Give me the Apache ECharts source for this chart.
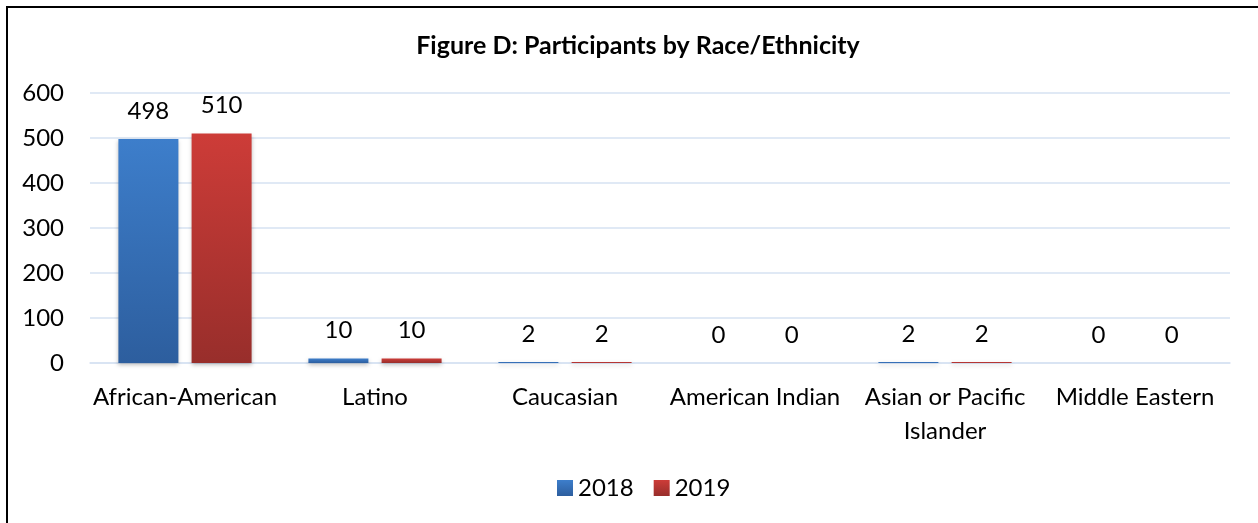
<!DOCTYPE html>
<html><head><meta charset="utf-8">
<script src="https://cdn.jsdelivr.net/npm/echarts@6/dist/echarts.min.js"></script>
<style>
html,body{margin:0;padding:0;background:#fff;}
#frame{position:absolute;left:6px;top:6px;width:1300px;height:560px;border-left:2px solid #000;border-top:2px solid #000;box-sizing:border-box;}
#chart{position:absolute;left:0;top:0;width:1258px;height:523px;}
</style></head>
<body>
<div id="frame"></div>
<div id="chart"></div>
<script>
var categories = ['African-American','Latino','Caucasian','American Indian','Asian or Pacific\nIslander','Middle Eastern'];
var values2018 = [498, 10, 2, 0, 2, 0];
var values2019 = [510, 10, 2, 0, 2, 0];
var yTicks = {min: 0, max: 600, interval: 100};

var FONT = 'Lato, "Open Sans", sans-serif';
function grad(top, bottom){
  return new echarts.graphic.LinearGradient(0,0,0,1,[{offset:0,color:top},{offset:1,color:bottom}]);
}
var blue = grad('#3d7ecb','#2d5e9e');
var red = grad('#cd3c38','#982e2b');
var chart = echarts.init(document.getElementById('chart'));
var labelCfg = {show:true, position:'top', distance:16, color:'#000', fontSize:24, fontFamily:FONT};
chart.setOption({
  animation:false,
  title:{text:'Figure D: Participants by Race/Ethnicity', left:633, top:28, textAlign:'center',
    textStyle:{fontSize:25, fontWeight:'bold', color:'#000', fontFamily:FONT}},
  legend:{bottom:18, left:552, itemWidth:16, itemHeight:16, itemGap:20,
    textStyle:{fontSize:24, color:'#000', fontFamily:FONT},
    data:[{name:'2018', icon:'rect'},{name:'2019', icon:'rect'}]},
  grid:{left:90, right:28, top:93, bottom:160},
  xAxis:{type:'category', data:categories,
    axisLine:{lineStyle:{color:'#d6e2f2', width:1.5}}, axisTick:{show:false},
    axisLabel:{fontSize:24, color:'#000', fontFamily:FONT, margin:17, lineHeight:34, interval:0}},
  yAxis:{type:'value', min:yTicks.min, max:yTicks.max, interval:yTicks.interval,
    axisLine:{show:false}, axisTick:{show:false},
    axisLabel:{fontSize:24, color:'#000', fontFamily:FONT, margin:26},
    splitLine:{lineStyle:{color:'#d6e2f2', width:1.5}}},
  series:[
    {name:'2018', type:'bar', data:values2018, barWidth:60, barGap:'22%',
     itemStyle:{color:blue, shadowColor:'rgba(0,0,0,0.25)', shadowBlur:4, shadowOffsetY:2},
     label:labelCfg},
    {name:'2019', type:'bar', data:values2019, barWidth:60,
     itemStyle:{color:red, shadowColor:'rgba(0,0,0,0.25)', shadowBlur:4, shadowOffsetY:2},
     label:labelCfg}
  ]
});
</script>
</body></html>
